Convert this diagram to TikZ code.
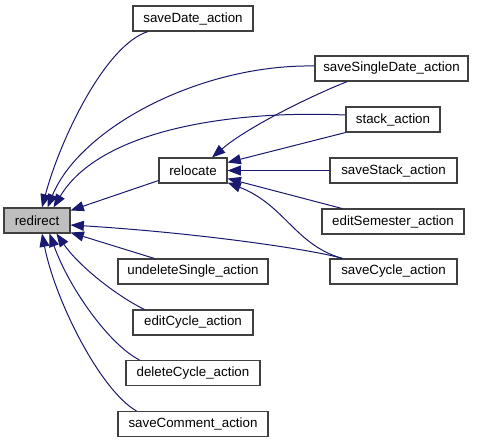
\documentclass[tikz,border=0pt]{standalone}
\usepackage{fontspec}
\setmainfont{Liberation Sans}
\usetikzlibrary{arrows.meta,calc}
\definecolor{edgeblue}{HTML}{191970}
\definecolor{nodegray}{HTML}{BFBFBF}
\definecolor{boxline}{HTML}{404040}
\begin{document}
\begin{tikzpicture}[x=0.75pt,y=-0.75pt,
  box/.style={draw=boxline, fill=white, line width=0.8pt, minimum height=18.75pt, inner sep=0pt,
    font=\fontsize{10}{12}\selectfont},
  edge/.style={draw=edgeblue, line width=0.75pt, -{Triangle[length=10pt,width=7.5pt]}}]
\useasboundingbox (0,0) rectangle (477,443);
% nodes
\node[box, fill=nodegray, minimum width=49.5pt] (redirect) at (37,220.5) {redirect};
\node[box, minimum width=51pt] (relocate) at (193,170.5) {relocate};
\node[box, minimum width=90pt] (saveDate) at (193,18.5) {saveDate\_action};
\node[box, minimum width=114.75pt] (saveSingleDate) at (391.5,68.5) {saveSingleDate\_action};
\node[box, minimum width=70.5pt] (stack) at (393,119.5) {stack\_action};
\node[box, minimum width=95.25pt] (saveStack) at (393.5,170.5) {saveStack\_action};
\node[box, minimum width=106.5pt] (editSemester) at (393,221.5) {editSemester\_action};
\node[box, minimum width=95.25pt] (saveCycle) at (393.5,271.5) {saveCycle\_action};
\node[box, minimum width=112.5pt] (undeleteSingle) at (193,271.5) {undeleteSingle\_action};
\node[box, minimum width=90pt] (editCycle) at (193,322.5) {editCycle\_action};
\node[box, minimum width=100.5pt] (deleteCycle) at (193,373) {deleteCycle\_action};
\node[box, minimum width=112.5pt] (saveComment) at (193,424) {saveComment\_action};
% edges into redirect
\draw[edge] ($(saveDate.south)+(-45,0)$) .. controls (105,45) and (60,140) .. ($(redirect.north)+(5,0)$);
\draw[edge] ($(saveSingleDate.west)+(0,-2.5)$) .. controls (200,64) and (80,128) .. ($(redirect.north)+(10.5,0)$);
\draw[edge] ($(stack.west)+(0,-4.5)$) .. controls (230,110) and (100,130) .. ($(redirect.north)+(16.5,0)$);
\draw[edge] ($(relocate.south west)+(0,-3)$) -- ($(redirect.east)+(0,-10)$);
\draw[edge] ($(saveCycle.north west)+(13,0)$) .. controls (315,250) and (200,233) .. ($(redirect.east)+(0,4.5)$);
\draw[edge] ($(undeleteSingle.north west)+(37,0)$) -- ($(redirect.south east)+(0,-1)$);
\draw[edge] ($(editCycle.north west)+(12,0)$) .. controls (115,295) and (78,265) .. ($(redirect.south)+(19.5,0)$);
\draw[edge] ($(deleteCycle.north west)+(14,0)$) .. controls (110,345) and (70,290) .. ($(redirect.south)+(12.5,0)$);
\draw[edge] ($(saveComment.north west)+(19,0)$) .. controls (100,390) and (55,300) .. ($(redirect.south)+(5,0)$);
% edges into relocate
\draw[edge] ($(saveSingleDate.south west)+(33,0)$) .. controls (320,92) and (250,125) .. ($(relocate.north)+(19,0)$);
\draw[edge] (stack.south west) -- ($(relocate.east)+(0,-8)$);
\draw[edge] (saveStack.west) -- (relocate.east);
\draw[edge] ($(editSemester.north west)+(20.5,0)$) -- ($(relocate.east)+(0,8)$);
\draw[edge] ($(saveCycle.north west)+(13,0)$) .. controls (295,245) and (285,205) .. ($(relocate.south east)+(0,-1)$);
\end{tikzpicture}
\end{document}
